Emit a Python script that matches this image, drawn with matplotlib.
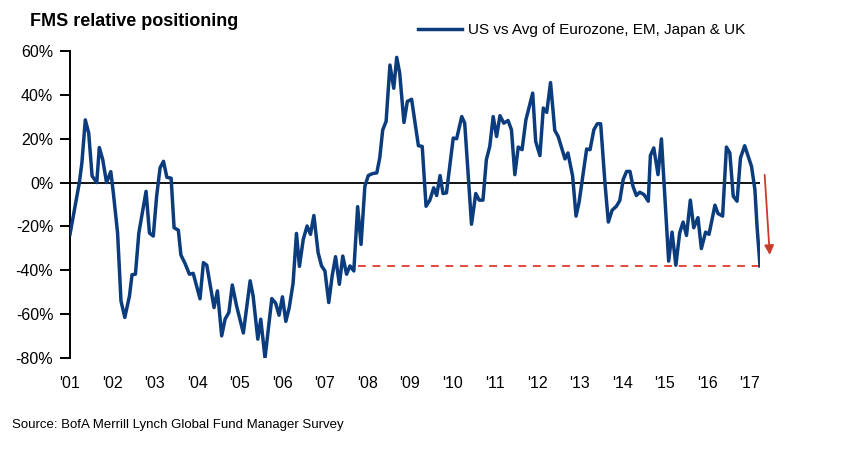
import matplotlib
matplotlib.use('Agg')
import matplotlib.pyplot as plt

plt.rcParams['font.family'] = ['Liberation Sans', 'DejaVu Sans']

# ------------------- data -------------------
dates = [2001.00, 2001.22, 2001.28, 2001.36, 2001.44, 2001.52, 2001.63, 2001.69, 2001.77, 2001.86,
         2001.96, 2002.02, 2002.12, 2002.20, 2002.29, 2002.40, 2002.46, 2002.54, 2002.62, 2002.79,
         2002.87, 2002.96, 2003.04, 2003.12, 2003.20, 2003.28, 2003.38, 2003.45, 2003.55, 2003.61,
         2003.71, 2003.81, 2003.90, 2004.06, 2004.14, 2004.22, 2004.39, 2004.47, 2004.57, 2004.65,
         2004.74, 2004.82, 2004.92, 2005.08, 2005.24, 2005.31, 2005.42, 2005.49, 2005.59, 2005.75,
         2005.84, 2005.92, 2006.00, 2006.08, 2006.16, 2006.25, 2006.33, 2006.40, 2006.49, 2006.58,
         2006.66, 2006.74, 2006.84, 2006.92, 2007.00, 2007.09, 2007.17, 2007.25, 2007.34, 2007.42,
         2007.51, 2007.59, 2007.68, 2007.77, 2007.85, 2007.94, 2008.02, 2008.12, 2008.22, 2008.29,
         2008.36, 2008.44, 2008.53, 2008.62, 2008.69, 2008.76, 2008.86, 2008.94, 2009.04, 2009.20,
         2009.29, 2009.38, 2009.47, 2009.56, 2009.63, 2009.71, 2009.78, 2009.86, 2010.02, 2010.10,
         2010.22, 2010.29, 2010.45, 2010.55, 2010.63, 2010.72, 2010.80, 2010.88, 2010.96, 2011.04,
         2011.12, 2011.21, 2011.31, 2011.39, 2011.47, 2011.55, 2011.64, 2011.73, 2011.89, 2011.96,
         2012.06, 2012.14, 2012.22, 2012.31, 2012.41, 2012.49, 2012.65, 2012.72, 2012.83, 2012.91,
         2012.98, 2013.16, 2013.24, 2013.33, 2013.41, 2013.49, 2013.59, 2013.67, 2013.76, 2013.86,
         2013.94, 2014.02, 2014.10, 2014.18, 2014.25, 2014.33, 2014.41, 2014.51, 2014.61, 2014.66,
         2014.74, 2014.84, 2014.92, 2015.00, 2015.09, 2015.17, 2015.26, 2015.35, 2015.43, 2015.51,
         2015.60, 2015.68, 2015.78, 2015.86, 2015.96, 2016.04, 2016.18, 2016.25, 2016.36, 2016.45,
         2016.53, 2016.61, 2016.70, 2016.78, 2016.88, 2017.04, 2017.12, 2017.17, 2017.24]

positioning = [-23.6, 0.0, 9.0, 28.6, 22.6, 3.0, 0.0, 16.0, 10.5, 0.0,
               5.0, -4.7, -23.0, -54.0, -61.5, -51.7, -42.0, -41.8, -23.0, -4.0,
               -23.0, -24.4, -6.0, 6.7, 9.7, 2.4, 2.0, -20.6, -21.7, -33.0,
               -37.0, -41.8, -41.4, -53.0, -36.5, -37.7, -57.0, -49.4, -69.9, -62.3,
               -59.2, -46.7, -56.2, -68.6, -44.8, -51.7, -71.4, -62.3, -80.0, -52.9,
               -55.0, -60.5, -52.1, -63.3, -57.0, -46.0, -23.2, -38.2, -25.9, -19.8,
               -23.6, -15.0, -32.0, -38.0, -40.3, -54.7, -42.6, -33.8, -46.4, -33.5,
               -41.8, -38.0, -40.3, -11.0, -28.2, -1.7, 3.2, 4.1, 4.4, 11.2,
               24.0, 27.9, 53.6, 43.0, 57.1, 49.9, 27.4, 37.0, 38.0, 16.8,
               16.5, -10.8, -8.0, -2.4, -5.9, 3.2, -5.0, -4.7, 20.3, 20.0,
               30.1, 27.1, -19.0, -5.0, -8.0, -8.0, 10.5, 16.5, 30.1, 21.0,
               30.5, 27.1, 28.3, 24.1, 3.6, 16.2, 15.0, 28.6, 40.8, 18.8,
               12.3, 34.0, 32.0, 45.6, 23.8, 21.0, 10.8, 13.5, 2.9, -15.3,
               -9.2, 15.3, 15.0, 24.1, 26.8, 26.8, 0.0, -18.0, -12.6, -10.8,
               -8.2, 1.4, 5.1, 5.1, -1.7, -5.9, -4.4, -5.5, -8.5, 12.3,
               15.8, 3.6, 19.9, -6.2, -35.8, -22.6, -37.7, -22.9, -18.0, -24.1,
               -8.0, -20.6, -16.0, -30.1, -22.6, -23.6, -10.3, -14.1, -15.3, 16.2,
               13.5, -6.2, -8.5, 11.2, 16.8, 7.4, -3.2, -19.9, -38.0]

years = list(range(2001, 2018))
year_labels = ["'%02d" % (y % 100) for y in years]
y_ticks = [-80, -60, -40, -20, 0, 20, 40, 60]
low_level = -38.0      # dashed "as low as 2007" line
low_start = 2007.77

navy = '#0b3c7d'
red = '#e5473c'

# ------------------- plot -------------------
fig = plt.figure(figsize=(8.61, 4.58), dpi=100)
ax = fig.add_axes([70 / 861, 100 / 458, 690 / 861, 307 / 458])

ax.axhline(0, color='black', linewidth=1.3, zorder=1)
ax.plot([low_start, dates[-1]], [low_level, low_level], color=red,
        linestyle=(0, (4, 3.5)), linewidth=1.4, zorder=2)
ax.plot(dates, positioning, color=navy, linewidth=2.5,
        solid_joinstyle='round', label='US vs Avg of Eurozone, EM, Japan & UK', zorder=3)

# red arrow pointing down at the end
ax.annotate('', xy=(2017.47, -33), xytext=(2017.35, 3.5),
            arrowprops=dict(arrowstyle='-|>', color='#cc3a2e', lw=1.3,
                            mutation_scale=14, shrinkA=0, shrinkB=0),
            annotation_clip=False)

ax.set_xlim(2001, 2017.24)
ax.set_ylim(-80, 60)
ax.set_yticks(y_ticks)
ax.set_yticklabels(['%d%%' % v for v in y_ticks], fontsize=11.5)
ax.set_xticks(years)
ax.set_xticklabels(year_labels, fontsize=11.5)

for s in ['top', 'right', 'bottom']:
    ax.spines[s].set_visible(False)
ax.spines['left'].set_linewidth(1.4)
ax.tick_params(axis='y', direction='out', length=7, width=1.4, pad=5)
ax.tick_params(axis='x', length=0, pad=13)

fig.text(30 / 861, 1 - 22 / 458, 'FMS relative positioning', fontsize=13,
         fontweight='bold', va='center', ha='left')
fig.legend(loc='center left', bbox_to_anchor=(418 / 861, 1 - 30 / 458), frameon=False,
           fontsize=11, handlelength=2.9, handletextpad=0.35, borderaxespad=0, borderpad=0)
fig.text(12 / 861, 1 - 425 / 458, 'Source: BofA Merrill Lynch Global Fund Manager Survey',
         fontsize=9.5, va='center', ha='left')

fig.savefig('out.png', dpi=100)
